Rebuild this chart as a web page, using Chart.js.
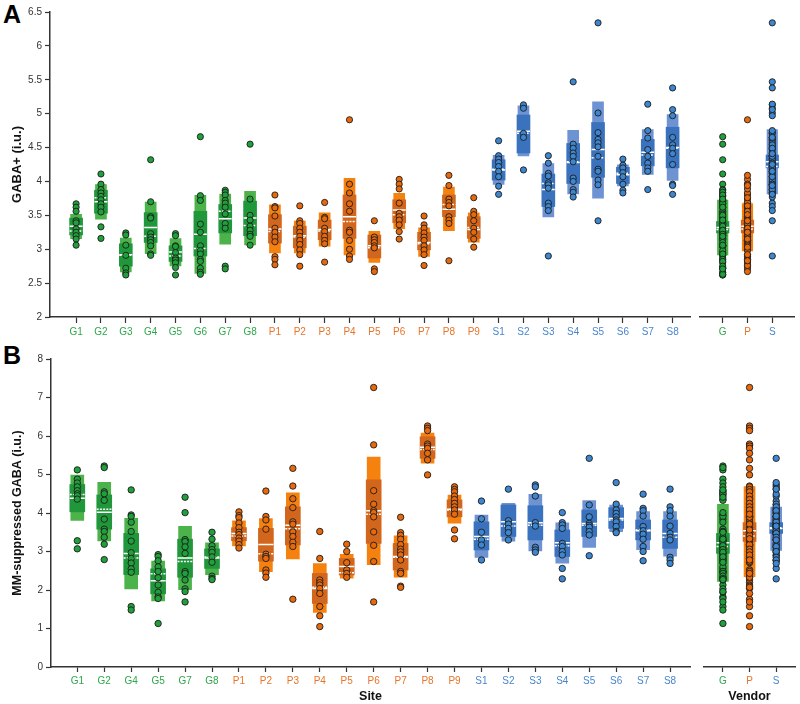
<!DOCTYPE html>
<html>
<head>
<meta charset="utf-8">
<script src="https://cdn.jsdelivr.net/npm/chart.js@4.4.1/dist/chart.umd.min.js"></script>
<style>
  body { margin: 0; background: #fff; }
  #wrap { position: relative; width: 800px; height: 704px; font-family: "Liberation Sans", Arial, sans-serif; }
  canvas { position: absolute; }
  .tag { position: absolute; font-weight: bold; font-size: 25px; line-height: 25px; color: #000; }
</style>
</head>
<body>
<div id="wrap">
  <div class="tag" style="left:3px;top:2px">A</div>
  <div class="tag" style="left:3px;top:343px">B</div>
  <canvas id="siteA" width="695" height="345" style="left:0;top:0"></canvas>
  <canvas id="vendA" width="105" height="345" style="left:695px;top:0"></canvas>
  <canvas id="siteB" width="695" height="364" style="left:0;top:340px"></canvas>
  <canvas id="vendB" width="105" height="364" style="left:695px;top:340px"></canvas>
</div>
<script>
Chart.defaults.font.family = '"Liberation Sans", Arial, sans-serif';
Chart.defaults.animation = false;

// ---------- panel A : GABA+ ----------
const sitesA = ['G1','G2','G3','G4','G5','G6','G7','G8','P1','P2','P3','P4','P5','P6','P7','P8','P9','S1','S2','S3','S4','S5','S6','S7','S8'];
const ptsA = [
  [3.67, 3.62, 3.56, 3.42, 3.39, 3.30, 3.25, 3.20, 3.15, 3.06],
  [4.11, 3.96, 3.88, 3.83, 3.78, 3.73, 3.67, 3.62, 3.55, 3.33, 3.16],
  [3.24, 3.21, 3.06, 2.91, 2.72, 2.65, 2.62],
  [4.32, 3.70, 3.48, 3.46, 3.23, 3.18, 3.14, 3.10, 3.05, 2.93, 2.91],
  [3.23, 3.20, 3.05, 3.04, 2.95, 2.87, 2.84, 2.80, 2.73, 2.62],
  [4.66, 3.79, 3.72, 3.37, 3.25, 3.05, 2.98, 2.93, 2.85, 2.82, 2.72, 2.66, 2.63],
  [3.87, 3.84, 3.80, 3.72, 3.68, 3.62, 3.52, 3.38, 3.31, 2.75, 2.71],
  [4.55, 3.74, 3.50, 3.43, 3.34, 3.28, 3.22, 3.19, 3.06],
  [3.80, 3.63, 3.61, 3.49, 3.31, 3.25, 3.18, 3.11, 2.89, 2.85, 2.77],
  [3.64, 3.42, 3.38, 3.31, 3.25, 3.19, 3.13, 3.07, 2.99, 2.92, 2.75],
  [3.69, 3.47, 3.45, 3.31, 3.26, 3.19, 3.13, 3.08, 2.81],
  [4.91, 3.96, 3.83, 3.67, 3.56, 3.28, 3.25, 3.13, 3.00, 2.90, 2.85],
  [3.42, 3.18, 3.14, 3.10, 3.05, 3.02, 2.71, 2.67],
  [4.03, 3.96, 3.89, 3.68, 3.53, 3.48, 3.43, 3.36, 3.26, 3.15],
  [3.49, 3.36, 3.31, 3.24, 3.18, 3.13, 3.05, 2.99, 2.92, 2.76],
  [4.09, 3.94, 3.74, 3.69, 3.64, 3.48, 3.43, 3.38, 2.83],
  [3.76, 3.56, 3.51, 3.42, 3.31, 3.25, 3.15, 3.03],
  [4.60, 4.38, 4.33, 4.28, 4.22, 4.15, 4.07, 3.93, 3.81],
  [5.13, 5.08, 4.71, 4.65, 4.17],
  [4.38, 4.27, 4.12, 4.08, 3.98, 3.95, 3.90, 3.68, 3.63, 3.57, 2.90],
  [5.47, 4.55, 4.49, 4.42, 4.37, 4.29, 4.05, 4.00, 3.88, 3.84, 3.77],
  [6.34, 5.01, 4.72, 4.62, 4.57, 4.51, 4.37, 4.18, 4.15, 4.02, 3.95, 3.42],
  [4.33, 4.24, 4.20, 4.13, 4.07, 3.96, 3.87, 3.83],
  [5.14, 4.75, 4.64, 4.47, 4.37, 4.27, 4.20, 4.15, 3.88],
  [5.38, 5.06, 4.97, 4.65, 4.54, 4.49, 4.41, 4.25, 3.96, 3.94, 3.81]
];
const sdLoA  = [3.14, 3.43, 2.65, 2.92, 2.74, 2.63, 3.06, 3.05, 2.93, 2.93, 3.03, 2.90, 2.79, 3.29, 2.88, 3.26, 3.09, 3.94, 4.36, 3.46, 3.80, 3.74, 3.92, 4.09, 4.00];
const sdHiA  = [3.53, 3.97, 3.18, 3.71, 3.17, 3.81, 3.83, 3.87, 3.67, 3.43, 3.55, 4.06, 3.28, 3.84, 3.33, 3.93, 3.55, 4.40, 5.13, 4.28, 4.77, 5.19, 4.26, 4.78, 5.00];
const ciLoA  = [3.21, 3.53, 2.75, 3.10, 2.82, 2.90, 3.24, 3.20, 3.09, 3.02, 3.14, 3.16, 2.87, 3.39, 2.99, 3.48, 3.16, 4.02, 4.42, 3.63, 3.97, 4.06, 3.97, 4.23, 4.20];
const ciHiA  = [3.46, 3.87, 3.08, 3.54, 3.05, 3.56, 3.66, 3.71, 3.51, 3.34, 3.43, 3.80, 3.21, 3.73, 3.25, 3.80, 3.48, 4.32, 4.98, 4.11, 4.56, 4.87, 4.21, 4.62, 4.80];
const meanA  = [3.34, 3.70, 2.92, 3.32, 2.96, 3.22, 3.45, 3.46, 3.30, 3.20, 3.29, 3.48, 3.05, 3.58, 3.10, 3.59, 3.29, 4.17, 4.74, 3.88, 4.28, 4.47, 4.10, 4.43, 4.50];
const medA   = [3.27, 3.76, 2.91, 3.19, 2.90, 3.01, 3.56, 3.35, 3.26, 3.18, 3.27, 3.41, 3.02, 3.51, 3.08, 3.66, 3.32, 4.18, 4.71, 3.97, 4.29, 4.35, 4.12, 4.39, 4.49];
const vendors = ['G', 'P', 'S'];
const vSdLoA = [2.90, 2.96, 3.80];
const vSdHiA = [3.74, 3.69, 4.78];
const vCiLoA = [3.24, 3.24, 4.20];
const vCiHiA = [3.41, 3.43, 4.39];
const vMeanA = [3.32, 3.34, 4.29];
const vMedA  = [3.29, 3.30, 4.22];
const yTicksA = [2, 6.5, 0.5];

// ---------- panel B : MM-suppressed GABA ----------
const sitesB = ['G1','G2','G4','G5','G7','G8','P1','P2','P3','P4','P5','P6','P7','P8','P9','S1','S2','S3','S4','S5','S6','S7','S8'];
const ptsB = [
  [5.12, 4.88, 4.78, 4.68, 4.58, 4.50, 4.45, 4.36, 3.28, 3.07],
  [5.22, 5.18, 4.55, 4.50, 4.33, 3.84, 3.58, 3.52, 3.37, 3.19, 2.79],
  [4.60, 3.95, 3.91, 3.76, 3.52, 3.27, 2.97, 2.82, 2.70, 2.55, 2.46, 1.57, 1.48],
  [2.92, 2.87, 2.76, 2.60, 2.48, 2.32, 2.13, 1.94, 1.82, 1.78, 1.13],
  [4.41, 4.01, 3.31, 3.26, 3.12, 2.95, 2.48, 2.43, 2.26, 2.03, 1.96, 1.69],
  [3.50, 3.32, 3.15, 3.05, 2.98, 2.86, 2.72, 2.36, 2.30, 2.27],
  [4.03, 3.93, 3.88, 3.74, 3.62, 3.50, 3.44, 3.35, 3.27, 3.18, 3.09],
  [4.57, 3.91, 3.82, 3.58, 2.93, 2.87, 2.82, 2.52, 2.44, 2.33],
  [5.16, 4.70, 4.37, 4.14, 3.77, 3.71, 3.51, 3.39, 3.24, 3.13, 1.76],
  [3.52, 2.82, 2.26, 2.19, 2.13, 2.04, 1.91, 1.57, 1.33, 1.05],
  [3.19, 3.00, 2.71, 2.52, 2.43, 2.33],
  [7.26, 5.77, 4.58, 4.23, 4.06, 4.01, 3.90, 3.51, 3.16, 2.74, 1.69],
  [3.89, 3.49, 3.42, 3.32, 3.18, 3.06, 2.99, 2.91, 2.78, 2.48, 2.43, 2.10, 2.07],
  [6.26, 6.20, 6.14, 5.79, 5.74, 5.68, 5.55, 5.38, 4.99],
  [4.68, 4.61, 4.55, 4.44, 4.35, 4.25, 4.16, 4.08, 3.97, 3.56, 3.33],
  [4.31, 3.85, 3.50, 3.30, 3.17, 2.78],
  [4.62, 3.80, 3.71, 3.60, 3.49, 3.30],
  [4.73, 4.68, 4.44, 3.75, 3.66, 3.11, 3.04, 2.98],
  [4.01, 3.75, 3.69, 3.60, 3.21, 3.13, 3.00, 2.91, 2.56, 2.29],
  [5.42, 4.21, 3.90, 3.73, 3.68, 3.63, 3.52, 3.43, 2.89],
  [4.79, 4.23, 4.08, 3.99, 3.90, 3.82, 3.77, 3.65, 3.52, 3.49],
  [4.49, 4.12, 4.06, 3.92, 3.65, 3.54, 3.45, 3.32, 3.13, 3.00, 2.76],
  [4.62, 4.16, 4.06, 3.92, 3.66, 3.47, 3.37, 3.30, 2.85, 2.78, 2.69]
];
const sdLoB  = [3.78, 3.25, 2.00, 1.69, 1.98, 2.37, 3.12, 2.45, 2.78, 1.39, 2.28, 2.63, 2.31, 5.27, 3.71, 2.82, 3.24, 2.99, 2.67, 3.08, 3.49, 3.02, 2.85];
const sdHiB  = [5.01, 4.82, 3.89, 2.78, 3.68, 3.25, 3.82, 3.88, 4.55, 2.71, 2.95, 5.48, 3.43, 6.10, 4.49, 3.97, 4.28, 4.51, 3.77, 4.35, 4.23, 4.06, 4.06];
const ciLoB  = [4.03, 3.58, 2.40, 1.90, 2.33, 2.56, 3.28, 2.75, 3.17, 1.65, 2.39, 3.21, 2.52, 5.42, 3.90, 3.04, 3.39, 3.30, 2.87, 3.39, 3.60, 3.30, 3.08];
const ciHiB  = [4.74, 4.47, 3.47, 2.55, 3.32, 3.07, 3.62, 3.60, 4.16, 2.43, 2.82, 4.86, 3.21, 5.98, 4.34, 3.77, 4.21, 4.19, 3.56, 4.08, 4.14, 3.82, 3.82];
const meanB  = [4.38, 4.02, 2.95, 2.24, 2.83, 2.83, 3.47, 3.18, 3.68, 2.04, 2.61, 4.06, 2.87, 5.71, 4.10, 3.39, 3.77, 3.75, 3.23, 3.73, 3.86, 3.54, 3.47];
const medB   = [4.48, 4.10, 2.83, 2.42, 2.74, 2.86, 3.40, 2.94, 3.59, 2.07, 2.45, 3.97, 2.85, 5.65, 4.08, 3.32, 3.66, 3.68, 3.15, 3.68, 3.82, 3.56, 3.37];
const vSdLoB = [2.20, 2.32, 3.00];
const vSdHiB = [4.25, 4.71, 4.18];
const vCiLoB = [2.95, 3.26, 3.47];
const vCiHiB = [3.47, 3.75, 3.75];
const vMeanB = [3.23, 3.54, 3.60];
const vMedB  = [3.13, 3.40, 3.62];
const yTicksB = [0, 8, 1];

const tickCol  = { G: '#2ea84a', P: '#e8742a', S: '#4a86cc' };
const outerCol = { G: '#4cb34a', P: '#f5820f', S: '#6e93d3' };
const innerCol = { G: '#21973b', P: '#d2661c', S: '#3a72be' };
const dotCol   = { G: '#1fa03a', P: '#e8690c', S: '#3d86d0' };

function segments(vals, half) {
  return vals.flatMap((v, i) => [{ x: i + 1 - half, y: v }, { x: i + 1 + half, y: v }, { x: i + 1, y: null }]);
}

function buildChart(id, p) {
  const keys = p.labels.map(l => l[0]);
  const datasets = [
    {
      type: 'bar', order: 4, grouped: false, barThickness: p.thick,
      data: p.labels.map((l, i) => ({ x: i + 1, y: [p.sdLo[i], p.sdHi[i]] })),
      backgroundColor: keys.map(k => outerCol[k]),
      borderColor: 'rgba(255,255,255,0.45)', borderWidth: 1, borderSkipped: false
    },
    {
      type: 'bar', order: 3, grouped: false, barThickness: p.thick,
      data: p.labels.map((l, i) => ({ x: i + 1, y: [p.ciLo[i], p.ciHi[i]] })),
      backgroundColor: keys.map(k => innerCol[k]), borderWidth: 0
    },
    {
      type: 'line', order: 2, data: segments(p.mean, p.half),
      borderColor: '#fff', borderWidth: 1.5, pointRadius: 0, spanGaps: false
    },
    {
      type: 'line', order: 2, data: segments(p.med, p.half),
      borderColor: '#fff', borderWidth: 1.5, borderDash: [2, 1.2], pointRadius: 0, spanGaps: false
    }
  ];
  vendors.forEach(v => {
    datasets.push({
      type: 'scatter', order: 1,
      data: p.points.flatMap((arr, i) => arr.map(y => ({ x: p.xOf(i, v), y })).filter(d => d.x !== null)),
      backgroundColor: dotCol[v], borderColor: '#1c1c1c', borderWidth: 0.9,
      pointRadius: p.radius
    });
  });

  const x = {
    type: 'linear', min: p.xMin, max: p.xMax, offset: false,
    afterBuildTicks: s => { s.ticks = p.labels.map((l, i) => ({ value: i + 1 })); },
    afterFit: s => { s.height = p.xHeight; },
    ticks: {
      autoSkip: false, maxRotation: 0, padding: 3, font: { size: 10 },
      callback: (v, i) => p.labels[i],
      color: c => tickCol[p.labels[c.index][0]]
    },
    grid: { offset: false, drawOnChartArea: false, tickLength: p.tickLen, color: '#333', tickWidth: 1.2 },
    border: { color: '#333', width: 1.5 },
    title: { display: !!p.xTitle, text: p.xTitle, color: '#111', font: { size: 12.5, weight: 'bold' }, padding: { top: 0, bottom: 0 } }
  };
  const y = {
    min: p.yTicks[0], max: p.yTicks[1], display: p.showY,
    afterFit: s => { s.width = p.yWidth; },
    ticks: { stepSize: p.yTicks[2], color: '#333', font: { size: 10 }, padding: 3, callback: v => String(+v.toFixed(1)) },
    grid: { drawOnChartArea: false, tickLength: 5, color: '#333', tickWidth: 1.2 },
    border: { color: '#333', width: 1.5 },
    title: { display: true, text: p.yTitle, color: '#111', font: { size: p.yTitleSize, weight: 'bold' }, padding: { top: 10, bottom: 0 } }
  };

  return new Chart(document.getElementById(id), {
    type: 'bar',
    data: { datasets },
    options: {
      responsive: false,
      events: [],
      layout: { padding: p.pad },
      plugins: { legend: { display: false }, tooltip: { enabled: false } },
      scales: { x, y }
    }
  });
}

// site charts: each point sits on its own site; vendor charts: all site points grouped by vendor
function siteXOf(labels) {
  return (i, v) => labels[i][0] === v ? i + 1 : null;
}
function vendPoints(labels, pts) {
  return vendors.map(v => labels.flatMap((l, i) => l[0] === v ? pts[i] : []));
}

buildChart('siteA', {
  labels: sitesA, points: ptsA, xOf: siteXOf(sitesA),
  sdLo: sdLoA, sdHi: sdHiA, ciLo: ciLoA, ciHi: ciHiA, mean: meanA, med: medA,
  xMin: -0.05, xMax: 25.7, thick: 13, half: 0.26, radius: 3.1,
  yTicks: yTicksA, showY: true, yWidth: 50, yTitle: 'GABA+ (i.u.)', yTitleSize: 13,
  xHeight: 28, tickLen: 6, xTitle: '',
  pad: { top: 12, right: 5, left: 0, bottom: 0 }
});
buildChart('vendA', {
  labels: vendors, points: vendPoints(sitesA, ptsA), xOf: siteXOf(vendors),
  sdLo: vSdLoA, sdHi: vSdHiA, ciLo: vCiLoA, ciHi: vCiHiA, mean: vMeanA, med: vMedA,
  xMin: 0.085, xMax: 3.875, thick: 12.5, half: 0.25, radius: 3.1,
  yTicks: yTicksA, showY: false, yWidth: 0, yTitle: '', yTitleSize: 13,
  xHeight: 28, tickLen: 6, xTitle: '',
  pad: { top: 12, right: 6, left: 5, bottom: 0 }
});
buildChart('siteB', {
  labels: sitesB, points: ptsB, xOf: siteXOf(sitesB),
  sdLo: sdLoB, sdHi: sdHiB, ciLo: ciLoB, ciHi: ciHiB, mean: meanB, med: medB,
  xMin: 0.024, xMax: 23.74, thick: 15, half: 0.28, radius: 3.2,
  yTicks: yTicksB, showY: true, yWidth: 51, yTitle: 'MM-suppressed GABA (i.u.)', yTitleSize: 12.5,
  xHeight: 37, tickLen: 5, xTitle: 'Site',
  pad: { top: 19, right: 5, left: 0, bottom: 0 }
});
buildChart('vendB', {
  labels: vendors, points: vendPoints(sitesB, ptsB), xOf: siteXOf(vendors),
  sdLo: vSdLoB, sdHi: vSdHiB, ciLo: vCiLoB, ciHi: vCiHiB, mean: vMeanB, med: vMedB,
  xMin: 0.29, xMax: 3.71, thick: 13, half: 0.24, radius: 3.2,
  yTicks: yTicksB, showY: false, yWidth: 0, yTitle: '', yTitleSize: 12.5,
  xHeight: 37, tickLen: 5, xTitle: 'Vendor',
  pad: { top: 19, right: 3, left: 9, bottom: 0 }
});
</script>
</body>
</html>
